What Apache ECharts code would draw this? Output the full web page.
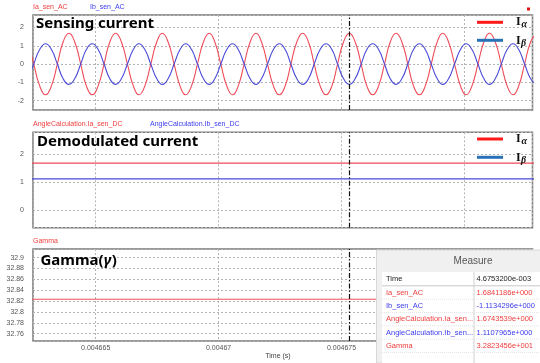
<!DOCTYPE html>
<html>
<head>
<meta charset="utf-8">
<script src="https://cdn.jsdelivr.net/npm/echarts@6/dist/echarts.min.js"></script>
<style>
html,body{margin:0;padding:0;background:#fff;}
#chart{width:540px;height:363px;}
</style>
</head>
<body>
<div id="chart"></div>
<script>
// ---- data (time in microseconds) ----
const timeUs = [
  4662.25, 4662.48, 4662.72, 4662.96, 4663.20, 4663.44, 4663.67, 4663.91,
  4664.15, 4664.39, 4664.62, 4664.86, 4665.10, 4665.34, 4665.57, 4665.81,
  4666.05, 4666.29, 4666.53, 4666.76, 4667.00, 4667.24, 4667.48, 4667.71,
  4667.95, 4668.19, 4668.43, 4668.66, 4668.90, 4669.14, 4669.38, 4669.62,
  4669.85, 4670.09, 4670.33, 4670.57, 4670.80, 4671.04, 4671.28, 4671.52,
  4671.75, 4671.99, 4672.23, 4672.47, 4672.71, 4672.94, 4673.18, 4673.42,
  4673.66, 4673.89, 4674.13, 4674.37, 4674.61, 4674.84, 4675.08, 4675.32,
  4675.56, 4675.80, 4676.03, 4676.27, 4676.51, 4676.75, 4676.98, 4677.22,
  4677.46, 4677.70, 4677.93, 4678.17, 4678.41, 4678.65, 4678.89, 4679.12,
  4679.36, 4679.60, 4679.84, 4680.07, 4680.31, 4680.55, 4680.79, 4681.02,
  4681.26, 4681.50, 4681.74, 4681.98, 4682.21, 4682.45, 4682.69, 4682.93
];
const iaSenAC = [
  1.19, 0, -1.19, -1.68, -1.19, 0, 1.19, 1.68,
  1.19, 0, -1.19, -1.68, -1.19, 0, 1.19, 1.68,
  1.19, 0, -1.19, -1.68, -1.19, 0, 1.19, 1.68,
  1.19, 0, -1.19, -1.68, -1.19, 0, 1.19, 1.68,
  1.19, 0, -1.19, -1.68, -1.19, 0, 1.19, 1.68,
  1.19, 0, -1.19, -1.68, -1.19, 0, 1.19, 1.68,
  1.19, 0, -1.19, -1.68, -1.19, 0, 1.19, 1.68,
  1.19, 0, -1.19, -1.68, -1.19, 0, 1.19, 1.68,
  1.19, 0, -1.19, -1.68, -1.19, 0, 1.19, 1.68,
  1.19, 0, -1.19, -1.68, -1.19, 0, 1.19, 1.68,
  1.19, 0, -1.19, -1.68, -1.19, 0, 1.19, 1.68
];
const ibSenAC = [
  -0.79, 0, 0.79, 1.11, 0.79, 0, -0.79, -1.11,
  -0.79, 0, 0.79, 1.11, 0.79, 0, -0.79, -1.11,
  -0.79, 0, 0.79, 1.11, 0.79, 0, -0.79, -1.11,
  -0.79, 0, 0.79, 1.11, 0.79, 0, -0.79, -1.11,
  -0.79, 0, 0.79, 1.11, 0.79, 0, -0.79, -1.11,
  -0.79, 0, 0.79, 1.11, 0.79, 0, -0.79, -1.11,
  -0.79, 0, 0.79, 1.11, 0.79, 0, -0.79, -1.11,
  -0.79, 0, 0.79, 1.11, 0.79, 0, -0.79, -1.11,
  -0.79, 0, 0.79, 1.11, 0.79, 0, -0.79, -1.11,
  -0.79, 0, 0.79, 1.11, 0.79, 0, -0.79, -1.11,
  -0.79, 0, 0.79, 1.11, 0.79, 0, -0.79, -1.11
];
const dcTime = [4662.25, 4682.93];
const iaSenDC = [1.6743539, 1.6743539];
const ibSenDC = [1.1107965, 1.1107965];
const gammaVals = [32.823456, 32.823456];
const cursorTime = 4675.32;

const measureNames = ['Time', 'Ia_sen_AC', 'Ib_sen_AC', 'AngleCalculation.Ia_sen...', 'AngleCalculation.Ib_sen...', 'Gamma'];
const measureValues = ['4.6753200e-003', '1.6841186e+000', '-1.1134296e+000', '1.6743539e+000', '1.1107965e+000', '3.2823456e+001'];

// ---- styles ----
const RED = '#ee4b57', BLUE = '#4a4ad8';
const TXT_RED = '#f03c3c', TXT_BLUE = '#3c3cf0';
const LEG_RED = '#ff1a1a', LEG_BLUE = '#2a72b8';
const measureColors = ['#222', TXT_RED, TXT_BLUE, TXT_RED, TXT_BLUE, TXT_RED];

const pair = (xs, ys) => xs.map((x, i) => [x, ys[i]]);

const grids = [
  {left: 33, top: 15, width: 499.5, height: 95},
  {left: 33, top: 132.3, width: 499.5, height: 95.4},
  {left: 33, top: 249, width: 499.5, height: 92}
].map(g => Object.assign(g, {show: true, borderColor: '#7a7a7a', borderWidth: 1.5, backgroundColor: '#fff', containLabel: false}));

const splitStyle = {show: true, lineStyle: {color: '#b4b4b4', type: [2, 2], width: 1}};

const xAxes = [0, 1, 2].map(i => ({
  type: 'value', gridIndex: i, min: 4662.449, max: 4682.771, splitNumber: 4,
  axisLine: {show: false}, axisTick: {show: false},
  splitLine: splitStyle,
  axisLabel: {
    show: i === 2, fontSize: 7, color: '#555', margin: 4,
    fontFamily: 'Liberation Sans', showMinLabel: false, showMaxLabel: false,
    formatter: v => String(+(v / 1e6).toPrecision(7))
  }
}));

const yCommon = {
  type: 'value', axisLine: {show: false}, axisTick: {show: false},
  splitLine: splitStyle
};
const yLabel = {fontSize: 7, color: '#555', margin: 9, fontFamily: 'Liberation Sans', showMinLabel: false, showMaxLabel: false};
const yAxes = [
  Object.assign({}, yCommon, {gridIndex: 0, min: -2.51, max: 2.68, splitNumber: 5, axisLabel: yLabel}),
  Object.assign({}, yCommon, {gridIndex: 1, min: -0.632, max: 2.775, splitNumber: 3, axisLabel: yLabel}),
  Object.assign({}, yCommon, {gridIndex: 2, min: 32.7466, max: 32.916, splitNumber: 8, axisLabel: yLabel})
];

const cursor = {
  silent: true, symbol: 'none', label: {show: false},
  lineStyle: {color: '#111', type: [5, 2, 1.5, 2], width: 1.2},
  data: [{xAxis: cursorTime}], animation: false
};

const lineS = (name, xi, data, color, withCursor) => ({
  name, type: 'line', xAxisIndex: xi, yAxisIndex: xi, data,
  smooth: 0.5, showSymbol: false, symbol: 'none',
  lineStyle: {color, width: 1.1}, itemStyle: {color},
  markLine: withCursor ? cursor : undefined, z: 3
});

const series = [
  lineS('Ia_sen_AC', 0, pair(timeUs, iaSenAC), RED, true),
  lineS('Ib_sen_AC', 0, pair(timeUs, ibSenAC), BLUE, false),
  lineS('AngleCalculation.Ia_sen_DC', 1, pair(dcTime, iaSenDC), RED, true),
  lineS('AngleCalculation.Ib_sen_DC', 1, pair(dcTime, ibSenDC), BLUE, false),
  lineS('Gamma', 2, pair(dcTime, gammaVals), RED, true)
];

const T = (text, x, y, font, fill, align, extra) => Object.assign({
  type: 'text', x, y, z: 50,
  style: {text, font, fill, textAlign: align || 'left', textVerticalAlign: 'middle'}
}, extra || {});
const smallFont = '7px "Liberation Sans"';
const titleFont = 'bold 15px "Noto Sans"';
const titleItal = 'bold italic 15px "Noto Sans"';

const graphics = [
  T('Ia_sen_AC', 33, 7, smallFont, TXT_RED),
  T('Ib_sen_AC', 90, 7, smallFont, TXT_BLUE),
  T('AngleCalculation.Ia_sen_DC', 33, 124, smallFont, TXT_RED),
  T('AngleCalculation.Ib_sen_DC', 150, 124, smallFont, TXT_BLUE),
  T('Gamma', 33, 241, smallFont, TXT_RED),
  T('Sensing current', 36, 23.5, titleFont, '#000'),
  T('Demodulated current', 37, 141.5, titleFont, '#000'),
  T('Gamma(', 40.5, 261, titleFont, '#000'),
  {type: 'rect', z: 50, shape: {x: 527, y: 7.5, width: 3, height: 3}, style: {fill: '#e01010'}}
];

// legends (Iα / Iβ)
[[22.3, 40.3], [139, 157.3]].forEach(([ya, yb]) => {
  graphics.push({type: 'line', z: 50, shape: {x1: 477, y1: ya, x2: 503, y2: ya}, style: {stroke: LEG_RED, lineWidth: 3}});
  graphics.push({type: 'line', z: 50, shape: {x1: 477, y1: yb, x2: 503, y2: yb}, style: {stroke: LEG_BLUE, lineWidth: 3}});
  graphics.push(T('I', 516, ya - 0.5, 'bold 12px "Liberation Serif"', '#111'));
  graphics.push(T('α', 521.5, ya + 2, 'italic bold 10px "Liberation Serif"', '#111'));
  graphics.push(T('I', 516, yb + 1, 'bold 12px "Liberation Serif"', '#111'));
  graphics.push(T('β', 521, yb + 3.5, 'italic bold 10px "Liberation Serif"', '#111'));
});

// Measure panel
graphics.push({type: 'rect', z: 60, shape: {x: 376.5, y: 250, width: 164, height: 113}, style: {fill: '#f0f0f0', stroke: '#d8d8d8', lineWidth: 1}});
graphics.push(T('Measure', 473, 261, '10px "Liberation Sans"', '#555', 'center', {z: 61}));
graphics.push({type: 'rect', z: 61, shape: {x: 382, y: 272, width: 158, height: 91}, style: {fill: '#fff'}});
graphics.push({type: 'line', z: 62, shape: {x1: 474, y1: 272, x2: 474, y2: 363}, style: {stroke: '#d0d0d0', lineWidth: 1}});
measureNames.forEach((n, i) => {
  const y = 279.3 + i * 13.35;
  graphics.push({type: 'line', z: 62, shape: {x1: 382, y1: y + 6.5, x2: 540, y2: y + 6.5}, style: {stroke: i === 0 ? '#c8c8c8' : '#e4e4e4', lineWidth: 1, lineDash: i === 0 ? null : [1, 1]}});
  graphics.push(T(n, 386, y, '7.5px "Liberation Sans"', measureColors[i], 'left', {z: 63}));
  graphics.push(T(measureValues[i], 476.5, y, '7.5px "Liberation Sans"', measureColors[i], 'left', {z: 63}));
});
graphics.push(T('Time (s)', 278, 356, smallFont, '#444', 'center'));

const chart = echarts.init(document.getElementById('chart'), null, {renderer: 'canvas'});

// Gamma title: γ italic appended after measuring "Gamma("
const mctx = document.createElement('canvas').getContext('2d');
mctx.font = titleFont;
const w1 = mctx.measureText('Gamma(').width;
mctx.font = titleItal;
const w2 = mctx.measureText('γ').width;
graphics.push(T('γ', 40.5 + w1, 261, titleItal, '#000'));
graphics.push(T(')', 40.5 + w1 + w2 + 0.5, 261, titleFont, '#000'));

chart.setOption({
  animation: false,
  backgroundColor: '#fff',
  grid: grids,
  xAxis: xAxes,
  yAxis: yAxes,
  series,
  graphic: {elements: graphics}
});
</script>
</body>
</html>
